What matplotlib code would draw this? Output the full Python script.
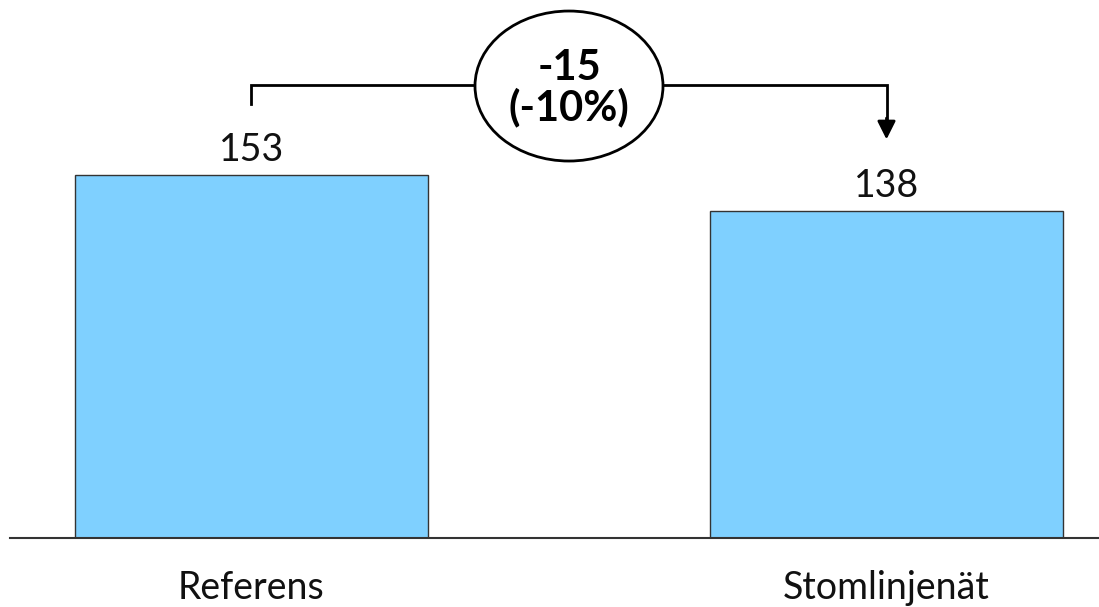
import matplotlib
matplotlib.use("Agg")
import matplotlib.pyplot as plt
from matplotlib.patches import Ellipse

categories = ["Referens", "Stomlinjenät"]
values = [153, 138]
diff_label = "-15\n(-10%)"

plt.rcParams['font.family'] = ['Lato', 'DejaVu Sans']

W, H = 1099, 607
fig = plt.figure(figsize=(W / 100, H / 100), dpi=100)
base_px = 538
ax = fig.add_axes([0, 1 - base_px / H, 1, base_px / H])

px_per_unit = 363 / values[0]
ymax = base_px / px_per_unit
ax.set_ylim(0, ymax)

bar_w = 353 / 635
c0 = 251.5
step = 635
ax.set_xlim((0 - c0) / step, (W - c0) / step)

x = list(range(len(categories)))
ax.bar(x, values, width=bar_w, color="#7FD0FF", edgecolor="#333333", linewidth=1.0, zorder=2)

for xi, v in zip(x, values):
    ax.text(xi, v + 10.5, str(v), ha="center", va="center", fontsize=27, color="#111111")

# bracket
start_y = values[0] + 30
top_y = max(values) + 38
end_y = values[1] + 30
ax.plot([x[0], x[0], x[1], x[1]], [start_y, top_y, top_y, end_y + 6], color="black", lw=2, zorder=3,
        solid_joinstyle="miter")
ax.annotate("", xy=(x[1], end_y), xytext=(x[1], end_y + 9),
            arrowprops=dict(arrowstyle="-|>,head_width=0.55,head_length=1.1", color="black", lw=2,
                            shrinkA=0, shrinkB=0), zorder=4)

mid = (x[0] + x[1]) / 2
ell = Ellipse((mid, top_y - 0.5), width=188 / step, height=150 / px_per_unit,
              facecolor="white", edgecolor="black", lw=2, zorder=5)
ax.add_patch(ell)
ax.text(mid, top_y - 1.5, diff_label, ha="center", va="center", fontsize=30, fontweight="bold",
        linespacing=1.0, zorder=6)

ax.set_xticks(x)
ax.set_xticklabels(categories, fontsize=27, color="#111111")
ax.tick_params(axis="x", length=0, pad=23)
ax.set_yticks([])
for s in ["top", "right", "left"]:
    ax.spines[s].set_visible(False)
ax.spines["bottom"].set_color("#333333")
ax.spines["bottom"].set_linewidth(1.5)
ax.spines["bottom"].set_bounds((10 - c0) / step, (W - c0) / step)
ax.patch.set_alpha(0)

fig.savefig("out.png", dpi=100)
